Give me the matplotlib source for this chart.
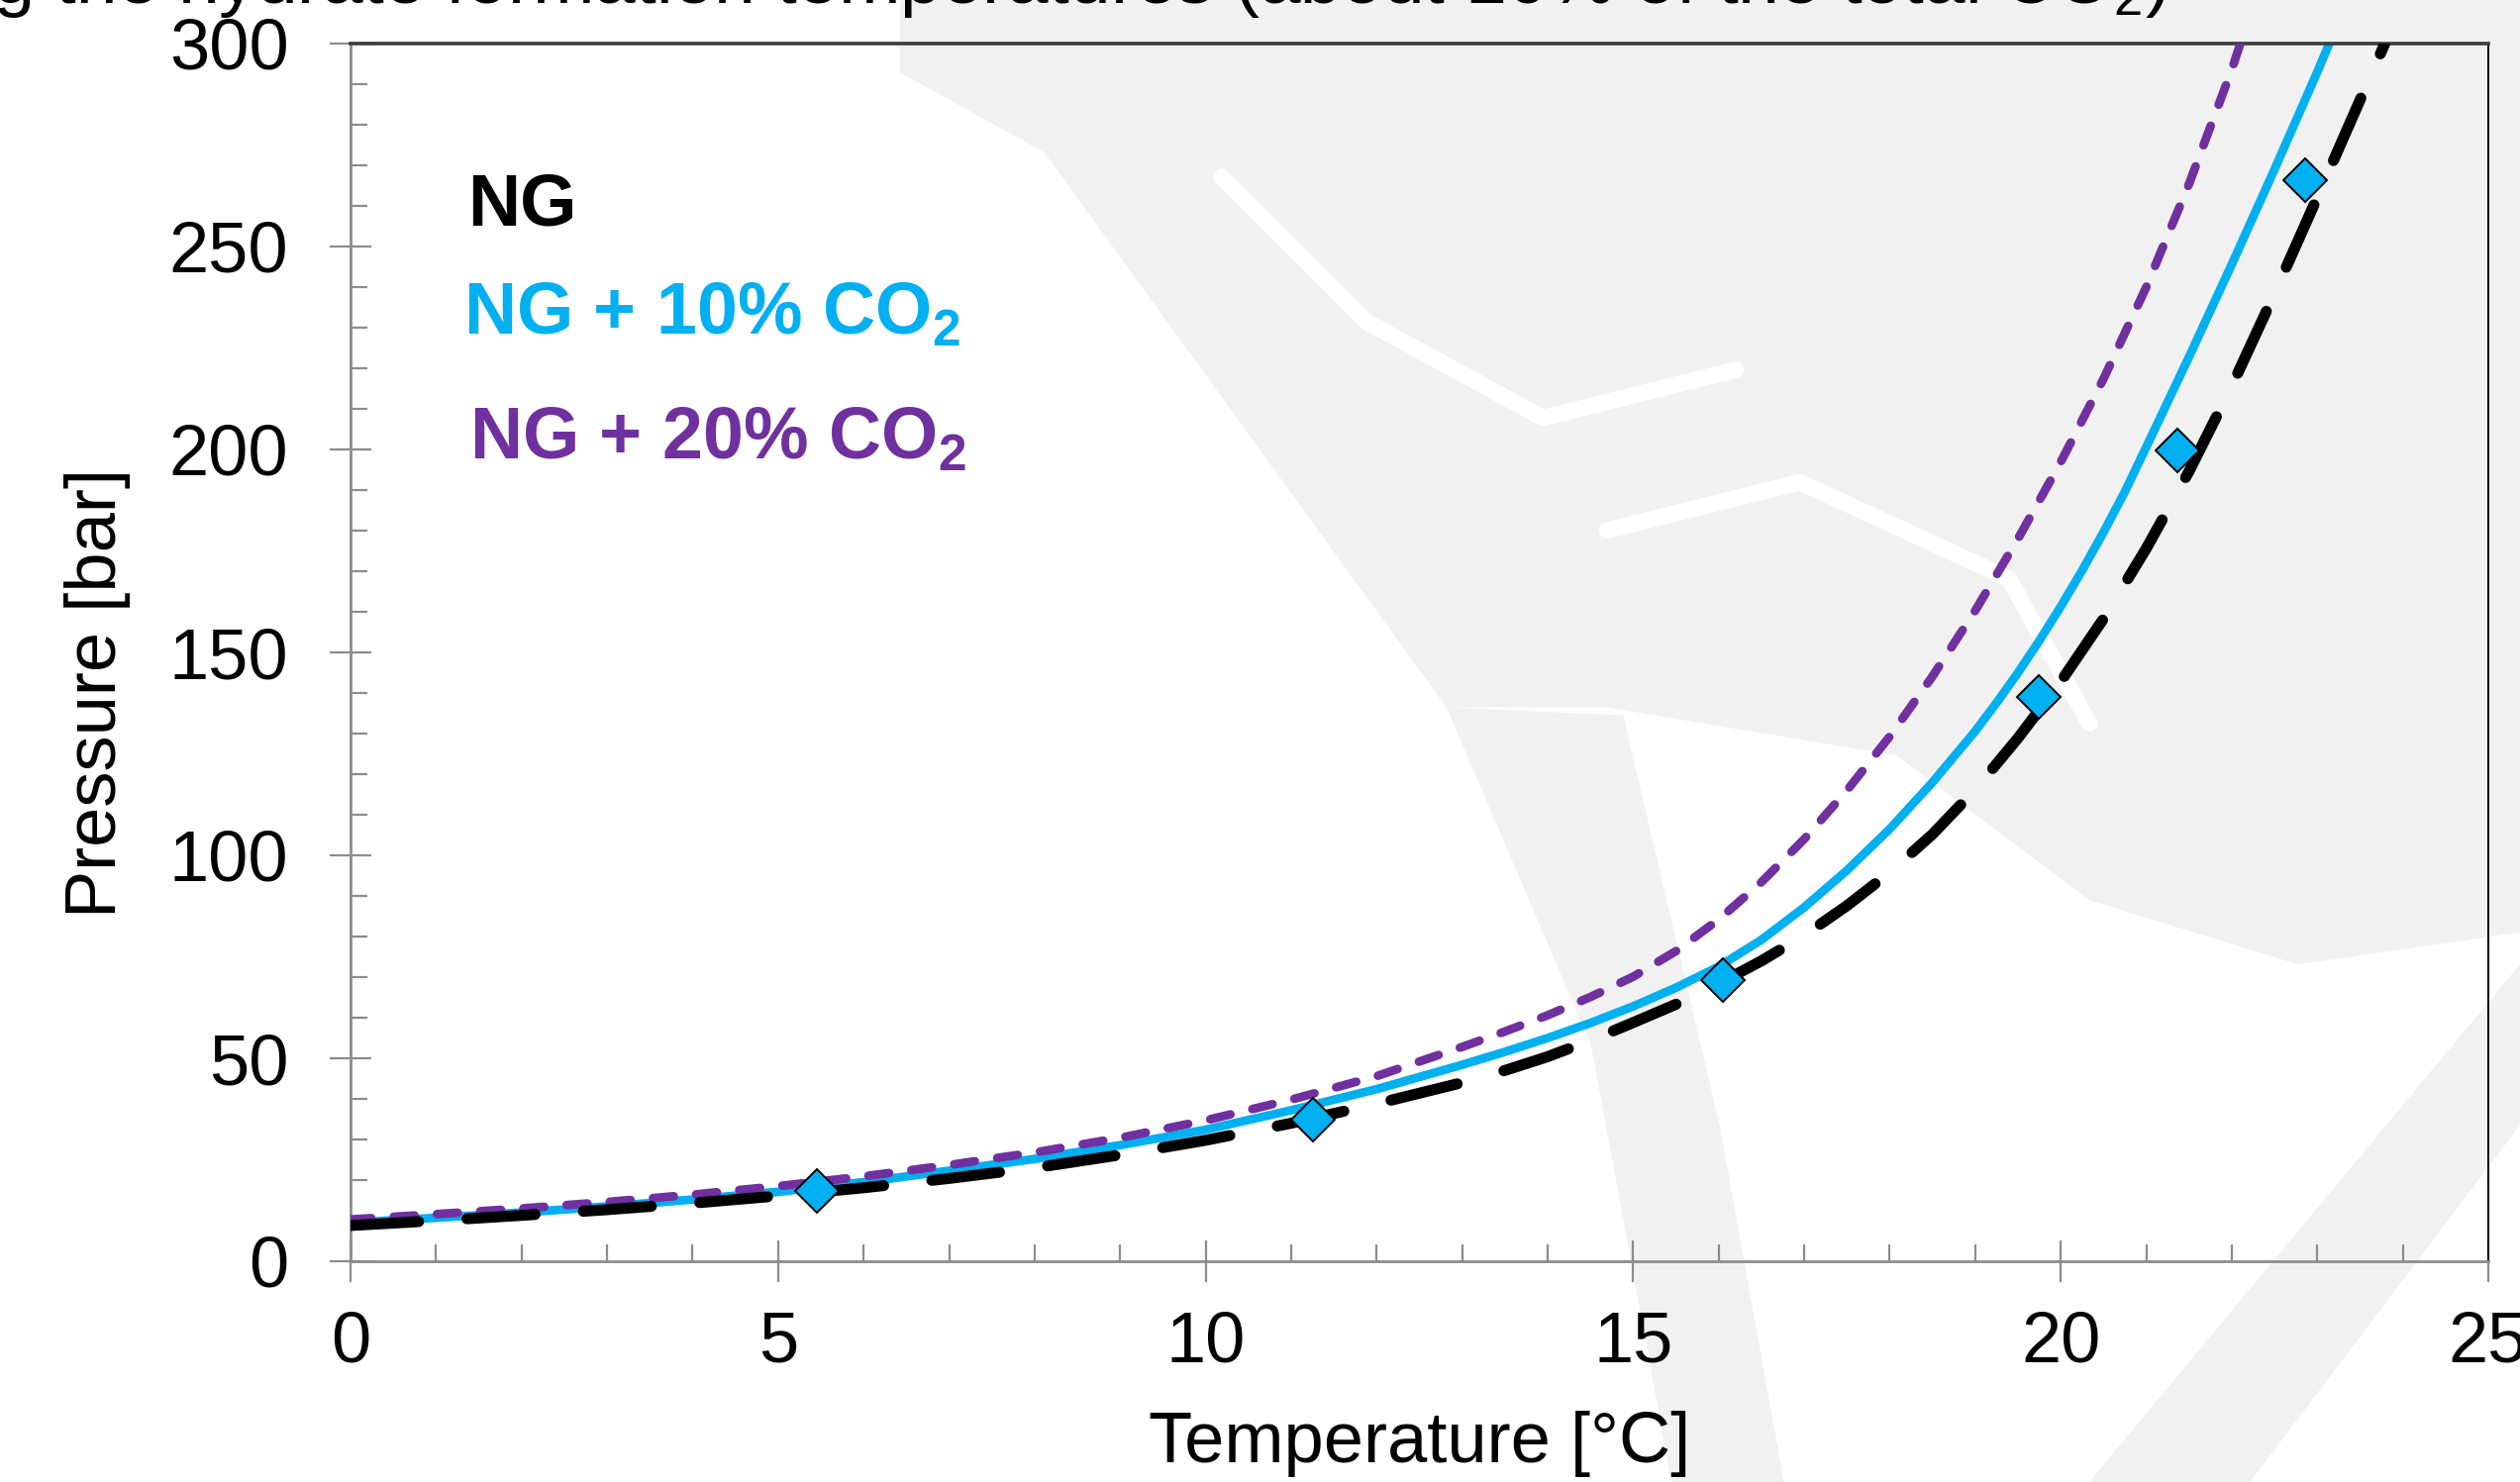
import matplotlib
matplotlib.use('Agg')
import matplotlib.pyplot as plt
from matplotlib.patches import Polygon, Rectangle
from matplotlib.ticker import MultipleLocator

plt.rcParams['font.family'] = ['Liberation Sans', 'DejaVu Sans']
plt.rcParams['mathtext.fontset'] = 'custom'
plt.rcParams['mathtext.rm'] = 'Liberation Sans'
plt.rcParams['mathtext.bf'] = 'Liberation Sans:bold'

# hydrate curves (temperature in degC, pressure in bar)
ng_temp = [0, 1, 2, 3, 4, 5, 6, 7, 8, 9, 10, 11, 12, 13, 13.5, 14, 14.5, 15, 15.5,
           16, 16.5, 17, 17.5, 18, 18.5, 19, 19.5, 20, 20.5, 21, 21.5, 22, 22.5,
           23, 23.5, 23.79]
ng_pres = [8.8, 10.0, 11.3, 12.7, 14.3, 16.1, 18.1, 20.4, 23.0, 26.2, 29.8, 34.0,
           38.8, 44.0, 47.0, 50.4, 54.4, 58.8, 63.3, 68.4, 74.0, 80.3, 87.6, 95.8,
           105.2, 116.2, 128.9, 142.8, 158.3, 175.6, 194.6, 215.6, 238.4, 262.1,
           286.1, 300.0]

co2_10_temp = [0, 1, 2, 3, 4, 5, 6, 7, 8, 9, 10, 11, 12, 13, 13.5, 14, 14.5, 15,
               15.5, 16, 16.5, 17, 17.5, 18, 18.5, 19, 19.25, 19.5, 19.75, 20, 20.25,
               20.5, 20.75, 21, 21.5, 22, 22.5, 23, 23.14]
co2_10_pres = [9.5, 10.7, 12.0, 13.5, 15.2, 17.1, 19.5, 22.3, 25.2, 28.6, 32.4, 37.2,
               42.4, 48.4, 51.6, 55.0, 58.7, 62.8, 67.4, 72.6, 79.2, 87.2, 96.3,
               106.5, 118.0, 130.6, 137.6, 145.0, 152.9, 161.3, 170.2, 179.6, 189.6,
               200.6, 222.8, 245.6, 269.0, 293.0, 300.0]

co2_20_temp = [0, 1, 2, 3, 4, 5, 6, 7, 8, 9, 10, 11, 12, 13, 13.5, 14, 14.5, 15,
               15.5, 16, 16.5, 17, 17.5, 18, 18.5, 19, 19.5, 20, 20.5, 21, 21.5, 22,
               22.1]
co2_20_pres = [10.3, 11.6, 13.0, 14.6, 16.4, 18.5, 20.9, 23.7, 26.8, 30.4, 34.7, 39.8,
               45.6, 52.8, 56.6, 60.6, 65.1, 70.1, 76.4, 84.2, 93.4, 104.0, 116.0,
               129.3, 144.1, 160.3, 178.0, 196.9, 217.4, 240.0, 265.4, 293.6, 300.0]

# measured points (diamonds)
exp_temp = [5.45, 11.26, 16.05, 19.74, 21.36, 22.86]
exp_pres = [17.4, 34.8, 69.3, 139.1, 199.8, 266.4]

series_labels = ['NG', r'NG + 10% CO$_\mathbf{2}$', r'NG + 20% CO$_\mathbf{2}$']
series_colors = ['#000000', '#00B0F0', '#7030A0']

x_ticks = [0, 5, 10, 15, 20, 25]
y_ticks = [0, 50, 100, 150, 200, 250, 300]

W, H = 2545, 1497
SW, SH = 1568, 922   # size of the shrunk view used to place the watermark


def fx(x):
    return x / W


def fy(y):
    return 1 - y / H


fig = plt.figure(figsize=(W / 100, H / 100), dpi=100)

# faint crest watermark behind the chart (rough shapes)
wm_color = '#f1f1f1'
wm_shapes = [
    [(560, 0), (1568, 0), (1568, 580), (1430, 600), (1300, 560), (1180, 470),
     (1000, 440), (900, 440), (650, 95), (560, 45)],
    [(900, 440), (1010, 445), (1070, 700), (1110, 922), (1040, 922), (990, 650)],
    [(1568, 600), (1568, 700), (1400, 922), (1300, 922)],
]
for pts in wm_shapes:
    fig.patches.append(Polygon([(x / SW, 1 - y / SH) for x, y in pts], closed=True,
                               transform=fig.transFigure, facecolor=wm_color,
                               edgecolor='none', zorder=-2))
wm_veins = [
    [(760, 110), (850, 200), (960, 260), (1080, 230)],
    [(1000, 330), (1120, 300), (1250, 360), (1300, 450)],
]
for pts in wm_veins:
    xs = [x / SW for x, y in pts]
    ys = [1 - y / SH for x, y in pts]
    fig.add_artist(plt.Line2D(xs, ys, transform=fig.transFigure, color='white',
                              lw=12, solid_capstyle='round', zorder=-1.5))

# white boxes behind the legend labels
for x0, y0, x1, y1 in [(440, 256, 1064, 365), (440, 382, 1070, 490)]:
    fig.patches.append(Rectangle((fx(x0), fy(y1)), fx(x1) - fx(x0), fy(y0) - fy(y1),
                                 transform=fig.transFigure, facecolor='white',
                                 edgecolor='none', zorder=-1))

ax = fig.add_axes([fx(354), fy(1274), fx(2513) - fx(354), fy(44) - fy(1274)])
ax.set_facecolor('none')

ax.plot(co2_10_temp, co2_10_pres, color=series_colors[1], lw=6.3, zorder=2,
        solid_joinstyle='round')
ax.plot(co2_20_temp, co2_20_pres, color=series_colors[2], lw=6.3, zorder=3,
        dashes=(2.4, 2.6), dash_capstyle='round', dash_joinstyle='round')
ax.plot(ng_temp, ng_pres, color=series_colors[0], lw=8, zorder=4,
        dashes=(6.2, 4.4), dash_capstyle='round', dash_joinstyle='round')
ax.plot(exp_temp, exp_pres, ls='none', marker='D', ms=22, mfc='#00B0F0',
        mec='black', mew=1.4, zorder=5)

ax.set_xlim(0, 25)
ax.set_ylim(0, 300)
ax.set_xticks(x_ticks)
ax.set_yticks(y_ticks)
ax.xaxis.set_minor_locator(MultipleLocator(1))
ax.yaxis.set_minor_locator(MultipleLocator(10))

grey = '#8c8c8c'
ax.tick_params(which='major', direction='inout', length=30, width=1.6, color=grey,
               labelsize=52, labelcolor='black')
ax.tick_params(axis='x', which='major', pad=21)
ax.tick_params(axis='y', which='major', pad=30)
ax.tick_params(which='minor', direction='in', length=12, width=1.6, color=grey)

for side in ['left', 'bottom']:
    ax.spines[side].set_color(grey)
    ax.spines[side].set_linewidth(2.0)
ax.spines['top'].set_color('#3c3c3c')
ax.spines['top'].set_linewidth(2.6)
ax.spines['right'].set_color('black')
ax.spines['right'].set_linewidth(1.4)

ax.set_xlabel('Temperature [°C]', fontsize=52)
ax.set_ylabel('Pressure [bar]', fontsize=52)
ax.xaxis.set_label_coords(0.5, -0.123)
ax.yaxis.set_label_coords(-0.103, 0.467)

# labels standing in for a legend
fig.text(fx(472), fy(228), series_labels[0], color=series_colors[0], fontsize=53,
         fontweight='bold', va='baseline', ha='left')
fig.text(fx(468), fy(338), series_labels[1], color=series_colors[1], fontsize=53,
         fontweight='bold', va='baseline', ha='left')
fig.text(fx(474), fy(464), series_labels[2], color=series_colors[2], fontsize=53,
         fontweight='bold', va='baseline', ha='left')

# slide title, cut off by the top edge
fig.text(fx(179), fy(3), r'hydrate formation temperatures (about 10% of the total CO$_2$)',
         fontsize=54, va='baseline', ha='left')
fig.text(fx(160), fy(3), 'Lowering the', fontsize=54, va='baseline', ha='right')

fig.savefig('out.png', dpi=100)
